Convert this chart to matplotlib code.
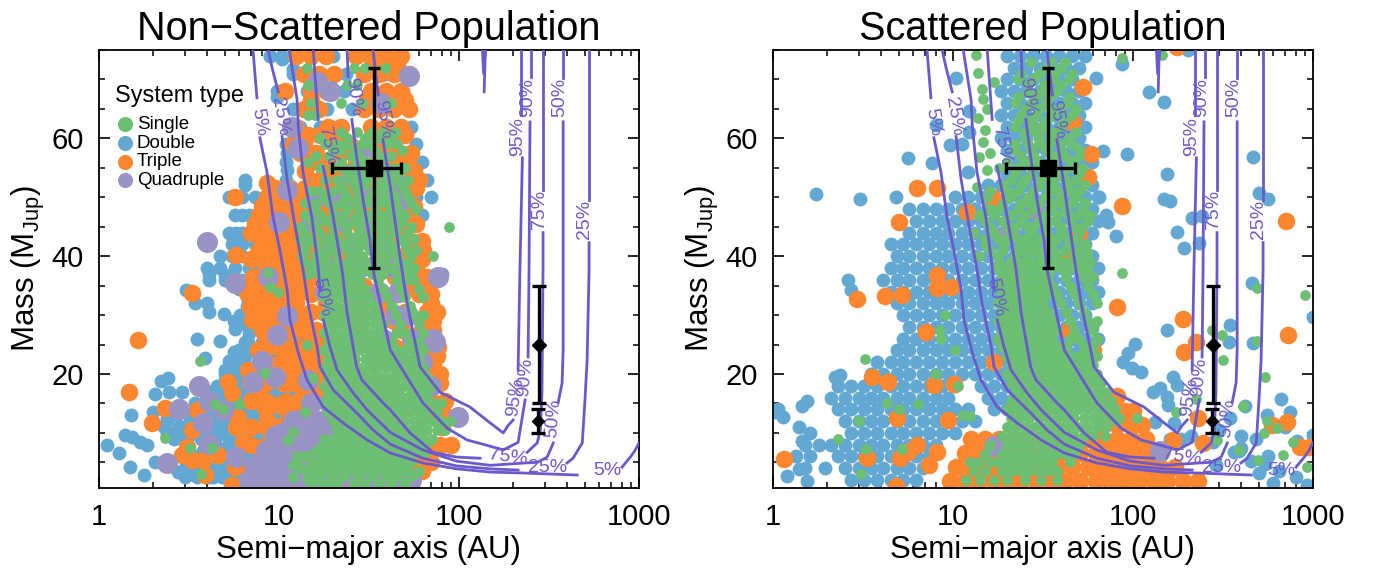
import matplotlib
matplotlib.use("Agg")
import matplotlib.pyplot as plt

plt.rcParams['font.family'] = ['Liberation Sans', 'DejaVu Sans']
plt.rcParams['mathtext.fontset'] = 'custom'
plt.rcParams['mathtext.rm'] = 'Liberation Sans'

GREEN = '#6cbf73'
BLUE = '#62a8d3'
ORANGE = '#fd8630'
PURPLE = '#9a94c4'
LINE = '#6a5acd'

# rows are (mass, [semi-major axes]), points are (semi-major axis, mass)
left_double_rows = [
    (74, [8.9, 10.4, 12, 20, 28, 36]), (71, [12, 13.5, 23.6, 38.8]), (68, [9.8, 14.3, 20, 23, 49]),
    (65, [12, 16, 18.4, 25.6, 52]), (62, [13, 17, 20, 54]), (59, [11, 13, 21.7, 25.6, 58]),
    (56, [11, 14.3, 18, 62]), (53, [6.5, 11, 15.6, 20, 60, 66]), (50, [5.3, 6.2, 7.4, 8.7, 18.4, 58, 70]),
    (47, [5.7, 6.2, 6.8, 8, 9.4, 11, 62]), (44, [5.3, 5.8, 6.2, 6.9, 8, 9.4, 11.2, 13, 50]),
    (42, [5.5, 6.2, 7.4, 8.7]), (40, [4.7, 5.5, 6.2, 7.4, 8.7, 10.3]), (38, [4, 4.7, 5.7, 6.8, 8, 9.4, 11.2]),
    (36, [4.1, 5, 6.2, 7.4, 8.7, 10.3, 69]), (33, [6.6, 7.7, 9, 10.5]), (30, [6.1, 7, 8, 9.4]),
    (27, [6.8, 8, 9.4, 11, 13]), (24, [6, 7, 8.2, 9.6, 11.5]), (22, [5.5, 6.4, 7.6, 9, 10.5, 13]),
    (20, [5, 5.8, 6.8, 8, 9.4, 11.2, 13]), (18, [4.5, 5.5, 6.5, 7.7, 9, 11, 13]),
    (16, [4.6, 5.3, 6.2, 7.4, 8.7, 10.3, 12]), (14, [3.6, 4.3, 5.1, 6, 7, 8.7, 10.3, 12]),
    (12, [2.4, 3.2, 3.8, 4.5, 5.3, 6.2, 7.4, 8.7, 10.3]), (10, [2.6, 3, 3.5, 4.1, 4.9, 5.7, 6.8, 8]),
    (8, [4.4, 5.3, 6.2, 7.4]), (6, [3.5, 4.2, 4.9, 5.7, 6.8]), (4, [3, 3.6, 4.1, 4.9, 5.7]),
    (2.5, [3, 3.5, 4.1, 4.8, 5.6]),
    (34.5, [6, 7.2, 8.4, 10]), (31.5, [6.6, 7.6, 9, 10.6]), (28.5, [6.5, 7.5, 9, 10.5, 12.5]),
    (25.5, [6.7, 8, 9.5, 11, 13]), (23, [5.6, 6.5, 7.7, 9, 10.5, 12.5, 14]), (21, [5.2, 6, 7, 8.2, 9.6, 11.2, 13]),
    (19, [5, 6, 7, 8.4, 10, 12, 14]), (17, [4.2, 5, 5.8, 7, 8.2, 9.6, 11.5]),
    (15, [3.4, 4, 4.8, 5.6, 6.6, 8, 9.5, 11.5]), (13, [2.7, 3.2, 3.8, 4.6, 5.5, 6.5, 8, 9.5]),
    (11, [2.3, 2.8, 3.3, 4, 4.7, 5.5, 6.5, 8, 10]), (9, [2.6, 3.1, 3.7, 4.4, 5.3, 6.3, 7.5]),
    (7, [3.8, 4.5, 5.3, 6.2, 7.2, 8.6]), (5, [3.6, 4.2, 5, 6, 7.2]), (3, [3.2, 3.8, 4.5, 5.4, 6.5]),
]
left_double_points = [
    (1.11, 7.9), (1.29, 6.6), (1.49, 4.2), (1.78, 2.8), (1.39, 9.6), (1.52, 9.3), (1.69, 8.4), (1.85, 7.9),
    (1.51, 13), (2, 13.5), (2.05, 16.6), (2.2, 18.8), (2.42, 19.3), (2.45, 17), (2.9, 17), (2.05, 5),
    (2.4, 9.6), (2.38, 12.5), (2.9, 11), (2.75, 3.3), (3.5, 26), (4.7, 25.6), (3.9, 22.7), (3.05, 34.3),
    (3.4, 32), (4, 32), (4.1, 30.5), (4.95, 30.2), (5.6, 29), (5.7, 27.6), (6.5, 25.4), (5.6, 23.7),
    (5.3, 22.2), (5, 20.7), (4.5, 17.6), (4.1, 37), (5, 36.8), (4.9, 11.3), (5.2, 7.9), (4.3, 2.5), (3.5, 3.2),
    (6.5, 52), (11.1, 54.7), (11.1, 57.5), (9.8, 67), (8.9, 73.9), (10.4, 73.4), (12, 71.7), (80, 37), (84, 13),
]

left_triple_rows = [
    (74, [12.4, 15, 18.2, 26.8, 32.4, 39.3, 47.6]), (71, [13.7, 16.6, 20.1, 29.5, 35.8, 43.3, 52.5]),
    (68, [10.8, 15, 18.2, 32.4, 39.3, 47.6]), (65, [13.7, 16.6, 29.5, 35.8, 43.3, 52.5]),
    (62, [12.4, 18.7, 22.1, 32.4, 39.3, 47.6]), (59, [12, 13.7, 20.1, 24.4, 35.8, 43.3]),
    (56, [15, 18.2, 26.8, 39.3, 47.6, 52]), (53, [16.6, 20.1, 24.4, 29.5, 35.8, 43.3, 52.5, 60]),
    (50, [8.6, 10.3, 12.4, 15, 18.2, 22.1, 26.8, 32.4, 39.3, 47.6]),
    (47, [7.7, 9.4, 11.3, 13.7, 16.6, 20.1, 24.4, 29.5, 35.8, 43.3, 52.5]),
    (44, [7, 8.5, 10.3, 12.4, 15, 18.2, 22.1, 32.4, 47.6]),
    (41, [7.7, 9.4, 11.3, 13.7, 16.6, 24.4, 35.8, 52.5, 63]),
    (38, [8.5, 10.3, 12.4, 15, 22.1, 32.4, 39.3, 47.6, 57.7]),
    (35, [6.4, 7.7, 9.4, 11.3, 13.7, 20.1, 29.5, 52.5, 63.6]),
    (32, [8.5, 10.3, 12.4, 18.2, 26.8, 39.3, 69.9]), (29, [8.3, 9.4, 11.3, 13.7, 20, 43.3, 63.6, 72]),
    (26, [8.5, 10.3, 15, 18.2, 32.4, 57.7, 69]), (23, [11.3, 14, 16.6, 24, 40, 75]),
    (20, [12.4, 15, 18.2, 28, 52, 78]), (17, [13.7, 16.6, 26, 44, 64]),
    (13, [14, 20, 30, 46, 70, 84]), (5, [40, 62, 70]), (2, [8, 10, 12, 16, 24, 36, 48]),
    (72.5, [33, 40, 45]), (66.5, [15, 31, 37, 45, 50]), (60.5, [14.5, 17, 21, 34, 41, 46, 50]),
    (57.5, [13, 16, 22, 28, 32, 38, 46, 54]), (54.5, [14, 18, 23, 30, 36, 42, 50, 56]),
    (51.5, [9.5, 11.5, 14, 17, 20, 24, 29, 35, 42, 50, 58]), (48.5, [8, 9.5, 11, 13, 15.5, 18.5, 22, 27, 33, 40, 48, 56]),
    (45.5, [7.4, 9, 11, 13, 16, 19, 23, 28, 34, 41, 50, 58]), (42.5, [8, 9.5, 11.5, 14, 17, 20, 26, 30, 42, 54, 62]),
    (39.5, [7, 8.5, 10, 12, 14.5, 18, 22, 28, 36, 44, 54, 62]), (36.5, [7.2, 9, 11, 13, 16, 19, 26, 44, 58, 66]),
    (33.5, [7.3, 8.8, 10.5, 12.5, 15, 18, 24, 46, 60, 70]), (30.5, [7.5, 9, 10.5, 12.5, 15, 17.5, 36, 50, 66, 75]),
    (27.5, [8, 9.5, 11.5, 13.5, 16, 28, 48, 62, 72]), (24.5, [8.8, 10.5, 12.5, 15, 17.5, 22, 44, 66, 76]),
    (21.5, [9, 11, 13.5, 16, 19, 34, 60, 72]), (18.5, [8.5, 11.5, 14.5, 17, 24, 40, 56, 78]),
    (15.5, [7, 8.5, 11, 13, 15, 18, 30, 50, 70, 84]), (11, [7, 8.5, 10, 12, 16, 26, 40, 60, 80]),
    (8, [7, 8.5, 11, 14, 18, 30, 50, 72, 90]), (3.5, [7, 9, 11, 14, 18, 24, 32, 44, 56, 62]),
]
left_triple_points = [
    (5.7, 50), (8.6, 52.5), (7.5, 45.8), (5.8, 40.2), (8.6, 42.8), (8, 41), (3.3, 33.8), (1.65, 25.8),
    (1.47, 17), (1.97, 11.7), (2.33, 14.2), (3.3, 10.5), (3.5, 13.9), (3.1, 7.6), (2.9, 6.2), (3.3, 5.4),
    (3.8, 5.4), (4.6, 6.2), (3.9, 2.8), (5.2, 18.6), (5.5, 16.8), (6.9, 18.6), (7.5, 17), (6.7, 20.7),
    (6.9, 31.4), (7.1, 29.2), (6.6, 33.8), (7.6, 24), (10.5, 22.7), (10.5, 18.5), (5.9, 12.7), (5.8, 11),
    (8.4, 14.2), (9.9, 14.7), (11.2, 13.5), (8.6, 12.2), (11.1, 11.8), (6.3, 8.4), (5.7, 4.2), (5.5, 1.1),
    (8.1, 5.9), (9.9, 29.2), (13.5, 17.3), (14.3, 22.9), (12.6, 2.5), (53, 3.7), (78, 7.9), (10, 9), (12, 8),
]

left_quad_rows = [
    (2, [6.8, 8.5, 10.7, 13.5, 17, 21.4, 27, 34, 43, 54]), (4.5, [7.5, 9.5, 12, 15, 19, 24, 30, 38, 48]),
    (7, [8.5, 10.7, 13.5, 17, 21.4, 27, 34, 43]), (9.5, [9.5, 12, 15, 19, 24, 30, 38, 48]),
    (12, [12, 13.5, 17, 21.4, 27, 34, 43]), (15, [15, 19, 24, 30, 38, 48, 60]), (18, [20, 30, 40, 60, 70]),
    (22, [24, 34, 48, 62]), (26, [23, 30, 38, 55, 72]), (30, [21, 28, 44, 52]), (34, [18, 24, 36, 46]),
    (38, [19, 28, 34, 44]), (42, [20, 26, 38]), (46, [15, 22, 30, 42]), (50, [16, 22, 33, 45]), (54, [25, 40]),
]
left_quad_points = [
    (5.7, 35.5), (3.6, 18), (2.8, 14), (2.4, 4.9), (4.1, 8.1), (3.8, 11.7), (4.1, 15.4), (4.9, 13.9),
    (5.8, 5.9), (7.4, 4.2), (7.2, 18.6), (8, 22.2), (9.5, 19.5), (11.1, 29.9), (9.8, 26.6), (8.7, 36.5),
    (14.5, 19), (8.6, 7.1), (10.4, 10), (12.8, 12.2), (10.5, 3.2), (6.9, 1.7), (8.9, 2), (76, 36.5),
    (73.6, 25.4), (99, 12.7), (53, 70.6), (45, 48.4), (45, 52.4), (4, 42.4), (11.8, 62), (12.8, 58.4),
    (11.1, 51.3), (16.3, 69.6), (19.2, 68), (31, 58.4), (37, 66), (10, 45.8),
]

left_single_rows = [
    (72, [14.3, 26, 30, 39]), (69, [14.5, 24, 27]), (66, [15, 22, 29, 42]), (64, [14.5, 15.8]),
    (61, [22, 27, 33, 38, 44]), (59, [18, 21, 24, 29, 32, 40, 45]), (57, [16, 19, 25, 28, 36, 42]),
    (55, [17, 20, 23, 26, 30, 35, 44, 50]), (53, [18, 21, 25, 29, 31, 38, 43, 52]),
    (51, [15, 17, 20, 23, 27, 34, 37, 42, 50]), (49, [14, 16, 19, 22, 26, 30, 36, 40, 44, 54]),
    (47, [14, 17, 20, 23, 27, 31, 33, 38, 44, 50]), (45, [13, 16, 20, 24, 28, 34, 38, 42, 46, 54]),
    (43, [13, 15, 18, 21, 25, 29, 34, 40, 48, 56]), (41, [14, 17, 20, 24, 27, 32, 38, 44, 52, 58]),
    (39, [14, 16, 18, 21, 24, 28, 32, 38, 46, 52]), (37, [14.5, 16.5, 19, 22, 25, 28, 33, 38, 46, 54]),
    (60, [17, 24, 30, 36, 42]), (58, [20, 22, 26, 34, 48]), (56, [14.5, 22, 27, 31, 38]),
    (54, [24, 28, 33, 40, 46]), (52, [22, 26, 30, 36, 40, 48]), (50, [18, 24, 28, 32, 38, 44, 52]),
    (48, [15.8, 20, 24, 28, 34, 42, 46, 58]), (46, [15, 18, 22, 26, 30, 36, 40, 48]),
    (44, [14, 17, 20, 24, 28, 32, 38, 44, 52]), (42, [14, 16, 19, 23, 27, 30, 36, 42, 50]),
    (40, [13.5, 15.8, 18, 21, 25, 29, 34, 40, 46, 54]), (38, [15, 17, 20, 23, 26, 30, 35, 42, 50, 56]),
    (36, [17.8, 20, 22.4, 25.1, 28.2, 35.5, 44.7, 50.1, 56.2]), (34.5, [18.8, 21.1, 23.7, 26.6, 29.9, 37.6, 47.3, 59.6]),
    (33, [17.8, 20, 22.4, 25.1, 28.2, 31.6, 39.8, 50.1, 63.1]), (31.5, [18.8, 21.1, 23.7, 26.6, 29.9, 33.5, 42.2, 53.1]),
    (30, [17.8, 20, 22.4, 25.1, 28.2, 31.6, 35.5, 44.7, 56.2, 63]),
    (28.5, [18.8, 21.1, 23.7, 26.6, 29.9, 33.5, 37.6, 47.3, 59.6]),
    (27, [17.8, 20, 22.4, 25.1, 28.2, 31.6, 35.5, 44.7, 50.1, 63.1]),
    (25.5, [18.8, 21.1, 23.7, 26.6, 29.9, 33.5, 37.6, 42.2, 53.1, 59.6]),
    (24, [17.8, 20, 22.4, 25.1, 28.2, 31.6, 35.5, 39.8, 44.7, 50.1, 56.2, 63.1]),
    (22.5, [18.8, 21.1, 23.7, 26.6, 29.9, 33.5, 37.6, 42.2, 47.3, 53.1, 59.6]),
    (21, [17.8, 20, 22.4, 25.1, 28.2, 31.6, 35.5, 39.8, 44.7, 50.1, 56.2, 63.1]),
    (19.5, [18.8, 21.1, 23.7, 26.6, 29.9, 33.5, 37.6, 42.2, 47.3, 53.1, 59.6, 66.8]),
    (18, [17.8, 20, 22.4, 25.1, 28.2, 31.6, 35.5, 39.8, 44.7, 50.1, 56.2, 63.1, 70.8]),
    (16.5, [18.8, 21.1, 23.7, 26.6, 29.9, 33.5, 37.6, 42.2, 47.3, 53.1, 59.6, 66.8]),
    (15, [17.8, 20, 22.4, 25.1, 28.2, 31.6, 35.5, 39.8, 44.7, 50.1, 56.2, 63.1, 70.8, 79.4]),
    (13.5, [18.8, 21.1, 23.7, 26.6, 29.9, 33.5, 37.6, 42.2, 47.3, 53.1, 59.6, 66.8, 75]),
    (12, [20, 22.4, 25.1, 28.2, 31.6, 35.5, 39.8, 44.7, 50.1, 56.2, 63.1, 70.8, 79.4, 89.1]),
    (10.5, [21.1, 23.7, 26.6, 29.9, 33.5, 37.6, 42.2, 47.3, 53.1, 59.6, 66.8, 75, 84.1]),
    (9, [17.8, 20, 22.4, 25.1, 28.2, 31.6, 35.5, 39.8, 44.7, 50.1, 56.2, 63.1, 70.8]),
    (8.25, [18, 20.5, 23, 26, 30, 34, 38, 42, 48, 54, 60, 66]),
    (7.5, [16.8, 18.8, 21.1, 23.7, 26.6, 29.9, 33.5, 37.6, 42.2, 47.3, 53.1, 59.6]),
    (6.75, [15.8, 17.5, 19.5, 22, 24.5, 27, 30.5, 35, 38, 42, 47, 52, 58, 65]),
    (6, [12.6, 14.1, 17.8, 20, 22.4, 25.1, 28.2, 31.6, 35.5, 39.8, 44.7, 50.1]),
    (5.25, [16, 18, 21, 24, 27, 30, 34, 38, 43, 48, 55]),
    (4.5, [11.9, 15, 18.8, 23.7, 29.9, 37.6, 47.3]), (4, [13, 17, 20, 22.5, 26, 31, 35, 40, 45, 52]),
    (3.5, [14.5, 16, 18.5, 20, 23, 26, 29, 33, 38, 44, 50, 60]), (2.7, [16.5, 20, 23, 28, 33, 40, 46, 55]),
    (1.5, [15, 18, 21, 26, 30, 36, 42, 50]),
]
left_single_points = [
    (3.65, 22.2), (8.4, 20.2), (4.4, 14.9), (4.9, 14), (6, 14.9), (2.33, 9.1), (3.2, 7.4), (4.25, 7.4),
    (3.7, 3), (8.9, 34.8), (9.9, 33.9), (8.7, 37.2), (14.3, 24.9), (15.5, 19.3), (14, 13.5), (12, 10.1),
    (11.2, 8.8), (12.6, 4.9), (12, 2.5), (14.3, 2.3), (16.2, 2), (18.5, 1.5), (88, 45), (72, 40),
]

right_double_rows = [
    (74, [20, 23.6, 27.8, 32.9, 38.8, 45.9, 54]), (72, [21.7, 25.6, 30.3, 35.8, 42.3, 49.9]),
    (70, [20, 23.6, 27.8, 32.9, 38.8, 45.9]), (68, [18.4, 21.7, 25.6, 30.3, 35.8, 42.3, 49.9]),
    (66, [20, 23.6, 27.8, 32.9, 38.8, 45.9, 54]), (64, [18.4, 21.7, 25.6, 30.3, 35.8, 42.3, 49.9]),
    (62, [20, 23.6, 27.8, 32.9, 38.8, 45.9, 54]), (60, [18.4, 21.7, 25.6, 30.3, 35.8, 42.3, 49.9]),
    (58, [20, 23.6, 27.8, 32.9, 38.8, 45.9, 54]), (56, [21.7, 25.6, 30.3, 35.8, 42.3, 49.9, 59]),
    (54, [20, 23.6, 27.8, 32.9, 38.8, 45.9, 54]), (52, [15.6, 18.4, 21.7, 25.6, 30.3, 35.8, 42.3, 49.9, 59]),
    (50, [10.3, 12.1, 14.3, 16.9, 20, 23.6, 27.8, 32.9, 38.8, 45.9, 54.2, 64]),
    (48, [5.7, 6.8, 8, 9.4, 11.2, 13.2, 15.6, 18.4, 21.7, 25.6, 30.3, 35.8, 42.3, 49.9, 59]),
    (46, [6.2, 7.4, 8.7, 10.3, 12.1, 14.3, 16.9, 20, 23.6, 27.8, 32.9, 38.8, 45.9, 54.2, 64]),
    (44, [5.7, 6.8, 8, 9.4, 11.2, 13.2, 15.6, 18.4, 21.7, 25.6, 30.3, 35.8, 42.3, 49.9, 59]),
    (42, [4.5, 5.3, 6.2, 7.4, 8.7, 10.3, 12.1, 14.3, 16.9, 20, 23.6, 27.8, 32.9, 38.8, 45.9, 54.2]),
    (40, [4.9, 5.7, 6.8, 8, 9.4, 11.2, 13.2, 15.6, 18.4, 21.7, 25.6, 30.3, 35.8, 42.3, 49.9, 59]),
    (38, [4.5, 5.3, 6.2, 7.4, 8.7, 10.3, 12.1, 14.3, 16.9, 20, 23.6, 27.8, 32.9, 38.8, 45.9, 54.2, 64]),
    (36, [4.1, 4.9, 5.7, 6.8, 8, 9.4, 11.2, 13.2, 15.6, 18.4, 21.7, 25.6, 30.3, 35.8, 42.3, 49.9, 59]),
    (34, [4.5, 5.3, 6.2, 7.4, 8.7, 10.3, 12.1, 14.3, 16.9, 20, 23.6, 27.8, 32.9, 38.8, 45.9, 54.2, 64]),
    (32, [4.9, 5.7, 6.8, 8, 9.4, 11.2, 13.2, 15.6, 18.4, 21.7, 25.6, 30.3, 35.8, 42.3, 49.9, 59]),
    (30, [5.3, 6.2, 7.4, 8.7, 10.3, 12.1, 14.3, 16.9, 20, 23.6, 27.8, 32.9, 38.8, 45.9, 54.2]),
    (28, [5.7, 6.8, 8, 9.4, 11.2, 13.2, 15.6, 18.4, 21.7, 25.6, 30.3, 35.8, 42.3, 49.9, 59]),
    (26, [5.3, 6.2, 7.4, 8.7, 10.3, 12.1, 14.3, 16.9, 20, 23.6, 27.8, 32.9, 38.8, 45.9, 54.2, 64]),
    (24, [4.9, 5.7, 6.8, 8, 9.4, 11.2, 13.2, 15.6, 18.4, 21.7, 25.6, 30.3, 35.8, 42.3, 49.9, 59]),
    (22, [3.8, 4.5, 5.3, 6.2, 7.4, 8.7, 10.3, 12.1, 14.3, 16.9, 20, 23.6, 27.8, 32.9, 38.8, 45.9, 54.2]),
    (20, [3.5, 4.1, 4.9, 5.7, 6.8, 8, 9.4, 11.2, 13.2, 15.6, 18.4, 21.7, 25.6, 30.3, 35.8, 42.3, 49.9, 59]),
    (18, [2.3, 2.7, 3.2, 3.8, 4.5, 5.3, 6.2, 7.4, 8.7, 10.3, 14.3, 16.9, 20, 23.6, 27.8, 32.9, 38.8, 45.9, 54.2]),
    (16, [2.1, 2.5, 3, 3.5, 4.1, 4.9, 5.7, 6.8, 8, 9.4, 15.6, 18.4, 21.7, 25.6, 30.3, 35.8, 42.3, 49.9, 59]),
    (14, [2.3, 2.7, 3.2, 3.8, 4.5, 5.3, 6.2, 7.4, 8.7, 10.3, 12.1, 16.9, 20, 23.6, 27.8, 32.9, 38.8, 45.9]),
    (12, [2.5, 3, 3.5, 4.1, 4.9, 5.7, 6.8, 8, 9.4, 11.2, 13.2]),
    (10, [1.6, 2.7, 3.2, 3.8, 4.5, 5.3, 6.2, 7.4, 8.7, 10.3]),
    (8, [1.5, 1.8, 2.1, 2.5, 3, 3.5, 4.1, 4.9, 5.7, 6.8, 8]),
    (6, [1.6, 2.3, 2.7, 3.2, 3.8, 4.5, 5.3, 6.2, 7.4]), (4, [1.5, 1.95, 2.5, 3, 3.5, 4.1, 4.9, 5.7, 6.8]),
    (2, [2.7, 3.2, 3.8, 4.5, 5.3, 6.2]),
]
right_double_points = [
    (1.73, 50.6), (3.04, 49.7), (5.6, 56.7), (7.6, 55.9), (10.4, 70.3), (9.6, 58.9), (11.2, 59), (12.3, 61),
    (12.3, 64.7), (8, 62.3), (12.1, 54.3), (4.8, 50), (2.6, 36), (2.7, 34.3), (2.2, 19.5), (2.35, 19.8),
    (1.06, 14), (1.03, 13.6), (1.14, 12.7), (1.45, 14.5), (1.55, 15.5), (1.39, 11), (1.45, 8.7), (1.35, 6.1),
    (1.4, 3.8), (1.2, 2.7), (1.55, 1.9), (62, 70.3), (87, 72.7), (123, 67.9), (149, 66.2), (68, 57.9), (93, 57.4),
    (155, 54), (464, 56.9), (501, 50.8), (563, 49.7), (65, 50), (149, 49.7), (161, 49.4), (213, 46.5), (241, 46.8),
    (71, 47), (73, 45.8), (80, 43.4), (175, 44.1), (192, 41.4), (233, 42.3), (202, 75), (458, 35.5), (155, 27.5),
    (345, 28.3), (340, 25.4), (464, 25.3), (103, 25.1), (94, 23.6), (88, 22), (99, 21), (111, 20.3), (167, 19.5),
    (175, 18.1), (141, 17.6), (129, 16.9), (155, 16.1), (157, 14.7), (133, 11.8), (170, 11.7), (667, 15.8),
    (556, 13), (745, 13.5), (1000, 29.7), (1000, 9.6), (600, 1.5), (420, 14.6), (185, 9), (210, 9.5), (300, 10.5),
    (345, 12.5), (400, 9.5), (390, 7), (480, 9), (560, 6), (650, 3.5), (800, 2.5), (930, 1.2), (1000, 1), (815, 8.7),
    (365, 6.8), (400, 7.5), (500, 3.2), (280, 8.5), (160, 9), (290, 4.6), (540, 4.7), (450, 5.3), (700, 11),
    (66, 9), (75, 1.5),
]
right_triple_rows = [
    (1.8, [9.6, 11.7, 14, 17, 20, 24, 29, 35, 42, 51, 62, 75, 90, 108, 130, 155, 190, 230]),
    (4.2, [10.4, 12.6, 15, 18, 22, 26, 32, 38, 46, 56, 68, 82, 98, 118, 142, 172]),
    (6.6, [11.7, 14, 17, 20, 24, 29, 35, 42, 51, 62, 75, 90, 108, 130]),
    (9, [12.6, 15, 18, 22, 26, 32, 38, 46, 56, 68, 82, 98, 118]),
    (11.4, [68, 82, 98, 112]), (13.8, [72, 90, 100]), (16.2, [72, 82]),
]
right_triple_points = [
    (6.3, 51.6), (8.1, 51.6), (5, 45.8), (16.6, 49.9), (12, 47.5), (2.93, 32.7), (4.2, 33.3), (5.2, 33.4),
    (3.55, 19.5), (4.35, 18.6), (7.8, 18.1), (10.1, 18.3), (7.1, 27.1), (4.9, 12.5), (9.4, 12.2), (3.33, 5.7),
    (5.1, 5.7), (1.15, 5.6), (4.8, 1), (8.2, 34.6), (9.8, 34.8), (8.2, 36.8), (6.3, 7.9), (5.6, 6.7), (8.2, 6.7),
    (7.4, 4.5), (81.5, 31.4), (189, 29.3), (224, 25.4), (192, 23.7), (723, 26.6), (715, 11.9), (594, 11.3),
    (230, 12.5), (245, 8.3), (845, 7.6), (960, 7.6), (167, 8.8), (52.9, 68.8), (46.4, 62.7), (58.6, 57.4),
    (56, 53.5), (87, 48.5), (50, 44), (708, 46), (43, 39.9), (175, 75.5), (17, 22), (60, 24), (44, 27.5),
]
right_quad_points = [(29.3, 47.9), (20.5, 44.1), (16.9, 7.8), (141, 7)]
right_single_rows = [
    (73, [27, 35, 42]), (71, [24, 30, 37, 46]), (69, [26, 32, 40]), (67, [23, 29, 34, 44]), (65, [25, 30, 35, 40, 48]),
    (63, [23, 27, 33, 42]), (61, [25, 29, 34, 38, 48]), (59, [22, 26, 30, 34, 40, 46]), (57, [24, 28, 36, 42, 50]),
    (55, [18, 23, 28, 34, 38, 44, 52]), (53, [21, 25, 31, 36, 42, 48]), (51, [16, 20, 23, 28, 34, 38, 44, 50]),
    (49, [19, 24, 27, 30, 36, 40, 46, 54]), (47, [14, 17, 21, 25, 32, 38, 44, 50, 58]),
    (45, [16, 20, 22, 26, 28, 33, 40, 47, 52]), (43, [15, 18, 20, 23, 25, 30, 36, 38, 44, 48]),
    (41, [16, 19, 23, 25, 29, 33, 36, 42, 50, 55]), (39, [18, 21, 24, 27, 30, 34, 38, 42, 46, 52, 58]),
    (72, [33, 40]), (70, [23, 28, 36, 44]), (68, [26, 31, 38]), (66, [22, 27, 33, 43]), (64, [24, 29, 36, 46]),
    (62, [22, 27, 31, 40]), (60, [25, 30, 36, 44]), (58, [22, 27, 33, 40, 50]), (56, [20, 25, 30, 36, 46]),
    (54, [22, 27, 33, 40, 50]), (52, [19, 24, 30, 36, 44, 54]), (50, [21, 26, 33, 40, 48]),
    (48, [16, 18, 23, 28, 35, 42, 52]), (46, [15, 19, 24, 30, 37, 45, 56]), (44, [13, 17, 21, 27, 33, 40, 50]),
    (42, [15, 19, 24, 28, 35, 44, 54]), (40, [14, 17.8, 22, 26, 31, 38, 47, 56]),
    (38, [17.6, 20, 22.4, 25.1, 28.2, 31.6, 35.5, 39.8, 44.7, 50.1, 56.2]),
    (36.5, [18.8, 21.1, 23.7, 26.6, 29.9, 33.5, 42.2, 53.1, 59.6]),
    (35, [17.8, 20, 22.4, 25.1, 28.2, 31.6, 35.5, 44.7, 56.2]),
    (33.5, [18.8, 21.1, 23.7, 26.6, 29.9, 33.5, 37.6, 47.3, 59.6]),
    (32, [17.8, 20, 22.4, 25.1, 28.2, 31.6, 39.8, 50.1, 63.1]),
    (30.5, [18.8, 21.1, 23.7, 26.6, 29.9, 33.5, 42.2, 53.1]),
    (29, [17.8, 20, 22.4, 25.1, 28.2, 31.6, 35.5, 44.7, 56.2, 63]),
    (27.5, [18.8, 21.1, 23.7, 26.6, 29.9, 33.5, 37.6, 47.3, 59.6]),
    (26, [17.8, 20, 22.4, 25.1, 28.2, 31.6, 35.5, 44.7, 50.1, 63.1]),
    (24.5, [18.8, 21.1, 23.7, 26.6, 29.9, 33.5, 37.6, 42.2, 53.1, 59.6]),
    (23, [20, 22.4, 25.1, 28.2, 31.6, 35.5, 39.8, 44.7, 50.1, 56.2, 63.1]),
    (21.5, [21.1, 23.7, 26.6, 29.9, 33.5, 37.6, 42.2, 47.3, 53.1, 59.6]),
    (20, [20, 22.4, 25.1, 28.2, 31.6, 35.5, 39.8, 44.7, 50.1, 56.2, 63.1]),
    (18.5, [21.1, 23.7, 26.6, 29.9, 33.5, 37.6, 42.2, 47.3, 53.1, 59.6, 66.8]),
    (17, [22.4, 25.1, 28.2, 31.6, 35.5, 39.8, 44.7, 50.1, 56.2, 63.1, 70.8]),
    (15.5, [21.1, 23.7, 26.6, 29.9, 33.5, 37.6, 42.2, 47.3, 53.1, 59.6, 66.8, 75]),
    (14, [20, 22.4, 25.1, 28.2, 31.6, 35.5, 39.8, 44.7, 50.1, 56.2, 63.1, 70.8, 79.4]),
    (12.5, [21.1, 23.7, 26.6, 29.9, 33.5, 37.6, 42.2, 47.3, 53.1, 59.6, 66.8, 75, 84.1]),
    (11, [20, 22.4, 25.1, 28.2, 31.6, 35.5, 39.8, 44.7, 50.1, 56.2, 63.1, 70.8]),
    (9.5, [18.8, 21.1, 23.7, 26.6, 29.9, 33.5, 37.6, 42.2, 47.3, 53.1, 59.6]),
    (8, [16, 20, 22.4, 25.1, 28.2, 31.6, 35.5, 39.8, 44.7, 50.1]),
    (6.5, [15, 18.8, 21.1, 23.7, 26.6, 29.9, 33.5, 37.6, 42.2, 47.3]),
    (5, [12.5, 14, 16, 17.8, 20, 22.4, 25.1, 28.2, 31.6, 35.5, 44.7]),
    (3.5, [13, 15, 18.8, 21.1, 23.7, 26.6, 29.9, 33.5, 37.6]),
    (2, [11.8, 14.1, 17, 20, 25, 31, 38]),
]
right_single_points = [
    (13.4, 74.2), (13.8, 71.1), (14.5, 68.3), (17, 69.6), (14.7, 66.6), (13.8, 63.5), (15.5, 64.9), (15, 61.5),
    (14.7, 59.3), (16, 57.5), (14, 56.9), (15.5, 54.7), (13.6, 51.8), (15.5, 50), (87, 73.7), (145, 74.2), (87, 37.2),
    (490, 34.6), (900, 33.4), (273, 27.5), (312, 26.6), (490, 25.6), (316, 22.4), (541, 19.5), (224, 15.8), (408, 14.6),
    (173, 13.5), (105, 12.5), (556, 12), (630, 10.8), (533, 10), (770, 8.4), (495, 5.4), (680, 6.2), (930, 4.2),
    (390, 7.1), (294, 8.8), (3.25, 22.5), (4.3, 15), (5, 14), (6.4, 14.9), (3, 12), (2.3, 9), (3.3, 7.3), (5.2, 7.2),
    (3.1, 3), (8, 20), (10.3, 24), (9, 30), (8.5, 27.4), (8.6, 26), (10.6, 18), (11.3, 13), (12.5, 12.8),
    (70, 9.5), (80, 12),
]

# contour segments are shared by both panels
contour_5 = [
    [(7.17, 75), (7.36, 70.8), (7.54, 66.9)],
    [(7.83, 60.1), (8.58, 54.2), (9.26, 46.7), (10.1, 41.1), (11.1, 34.3), (11.5, 29.2), (12.8, 23.6), (14.3, 19),
     (17.6, 14.4), (22.7, 11.7), (30.9, 8.8), (41.5, 6.6), (63, 4.9), (97, 3.9), (149, 3.35), (227, 3.2), (454, 2.85)],
    [(805, 4.2), (895, 5.9), (950, 7), (1000, 8.3)],
]
contour_25 = [
    [(8.7, 75), (9.2, 71.7), (9.9, 67.9)],
    [(10.4, 60.3), (11.1, 53), (12.3, 45), (13.6, 37.7), (14.5, 32), (16.3, 24.6), (16.9, 21.2), (20, 17.3), (27, 13.4),
     (33.3, 10.5), (41.5, 8.1), (63, 5.7), (97, 4.4), (149, 3.9), (213, 3.7)],
    [(398, 4.9), (430, 5.7), (484, 8.3), (501, 15.6), (515, 22.4), (528, 37.7), (528, 42.3)],
    [(528, 49.6), (528, 75)],
]
contour_50 = [
    [(11.4, 75), (12.6, 66.6), (12.8, 62), (13.6, 54.2), (15.2, 46.7), (16.5, 38.2), (16.9, 34.3)],
    [(17.6, 29.2), (19.2, 24.6), (21, 20.7), (25.8, 16.8), (30.9, 13.9), (41.5, 10.1), (63, 7.1), (97, 5.2), (149, 4.5),
     (233, 4.9), (272, 5), (309, 5.9), (334, 8.3)],
    [(356, 15.2), (374, 18.5), (379, 24.1), (379, 37.7), (379, 62.8)],
    [(379, 70.3), (379, 75)],
]
contour_75 = [
    [(15.5, 75), (16.5, 63.2)],
    [(17.6, 55.2), (20, 46.7), (22.4, 37.7), (23.9, 30.4), (27, 21.2), (28.9, 19), (37.8, 15.1), (41.5, 13.9), (53.5, 10),
     (71.7, 6.7), (97, 5.9), (131, 5.7)],
    [(239, 6.7), (272, 8.3), (283, 10.5), (289, 16.8), (293, 37.7), (293, 44)],
    [(293, 51.3), (293, 75)],
]
contour_90 = [
    [(23.9, 75), (24.2, 70.5)],
    [(25.4, 63.2), (27, 56.9), (29.3, 49.6), (32, 42.8), (33.3, 37.7), (36.5, 32), (41.5, 24.1), (63, 15.1), (86, 10.8),
     (111, 8.8), (143, 7.9), (176, 7.1), (213, 8.4), (233, 15.6)],
    [(242, 22.9), (245, 37.7), (248, 62.8)],
    [(251, 70.5), (251, 75)],
]
contour_95 = [
    [(33.3, 75), (35.6, 67.4)],
    [(37.8, 59.8), (41.5, 51.8), (43, 48.4), (47, 39.9), (48.2, 37.7), (51.5, 32), (60.8, 21.2), (78.5, 16.9), (115, 14.4),
     (149, 11.7), (176, 10), (188, 11.3), (200, 12.2)],
    [(213, 20.7), (218, 37.7), (225, 56.7)],
    [(220, 64), (220, 75)],
]
contour_spike = [[(135, 75), (137, 71), (140, 75), (138, 67.9)]]
contour_segments = [contour_5, contour_25, contour_50, contour_75, contour_90, contour_95, contour_spike]

label_texts = ['5%', '25%', '75%', '90%', '95%', '50%', '95%', '90%', '50%', '75%', '25%', '95%', '90%', '50%',
               '75%', '25%', '5%']
label_a = [7.8, 10.1, 18.5, 25.8, 37.8, 17.3, 213, 242, 365, 281, 501, 206, 233, 334, 188, 309, 667]
label_m = [62.7, 63.7, 58.6, 67, 63.2, 33.1, 60.3, 67, 66.9, 47.9, 46.2, 16.1, 19.5, 12.5, 5.9, 4.2, 3.7]
label_rot = [-80, -80, -78, -82, -80, -78, 90, 90, 90, 90, 90, 82, 85, 85, -8, 0, 0]

square_a, square_m = 33.7, 55
square_a_err = [19.7, 47.6]
square_m_err = [38, 72]
diamond_a = [278, 275]
diamond_m = [25, 12]
diamond_low = [15, 10]
diamond_high = [35, 14]

legend_names = ['Single', 'Double', 'Triple', 'Quadruple']
legend_colors = [GREEN, BLUE, ORANGE, PURPLE]


def expand(rows, points):
    xs = [a for a, _ in points]
    ys = [m for _, m in points]
    for m, values in rows:
        xs += values
        ys += [m] * len(values)
    return xs, ys


def draw_panel(ax, title, double, triple, quad, single):
    # big points go under the small ones
    for (xs, ys), color, size in [(double, BLUE, 100), (triple, ORANGE, 160), (quad, PURPLE, 230), (single, GREEN, 60)]:
        ax.scatter(xs, ys, s=size, c=color, linewidths=0, zorder=2)

    for contour in contour_segments:
        for seg in contour:
            ax.plot([p[0] for p in seg], [p[1] for p in seg], color=LINE, lw=2, zorder=3)
    for text, a, m, rot in zip(label_texts, label_a, label_m, label_rot):
        ax.text(a, m, text, color=LINE, fontsize=14, rotation=rot, ha='center', va='center', zorder=4)

    ax.errorbar([square_a], [square_m], xerr=[[square_a - square_a_err[0]], [square_a_err[1] - square_a]],
                yerr=[[square_m - square_m_err[0]], [square_m_err[1] - square_m]], fmt='s', color='k', ms=12,
                elinewidth=2.4, capsize=4.5, capthick=2.4, zorder=5)
    for a, m, low, high in zip(diamond_a, diamond_m, diamond_low, diamond_high):
        ax.errorbar([a], [m], yerr=[[m - low], [high - m]], fmt='D', color='k', ms=7.5 if m > 20 else 6,
                    elinewidth=2.4, capsize=5, capthick=2.4, zorder=5)

    ax.set_xscale('log')
    ax.set_xlim(1, 1000)
    ax.set_ylim(0.65, 75)
    ax.set_yticks([20, 40, 60])
    ax.set_yticks([5, 10, 15, 25, 30, 35, 45, 50, 55, 65, 70, 75], minor=True)
    ax.set_xticks([1, 10, 100, 1000])
    ax.set_xticklabels(['1', '10', '100', '1000'])
    ax.tick_params(which='major', direction='in', length=8, width=1.2, top=True, right=True, labelsize=21, pad=11)
    ax.tick_params(which='minor', direction='in', length=4, width=1.1, top=True, right=True)
    for spine in ax.spines.values():
        spine.set_linewidth(1.3)
    ax.set_title(title, fontsize=28.5, pad=7)
    ax.set_xlabel('Semi\u2212major axis (AU)', fontsize=22.5, labelpad=3)
    ax.set_ylabel('Mass (M$_{\\mathrm{Jup}}$)', fontsize=22.5, labelpad=3)


fig = plt.figure(figsize=(13.74, 5.72), dpi=100)
ax_left = fig.add_axes([99 / 1374, 1 - 488 / 572, 540 / 1374, 438 / 572])
ax_right = fig.add_axes([773 / 1374, 1 - 488 / 572, 540 / 1374, 438 / 572])

draw_panel(ax_left, 'Non\u2212Scattered Population', expand(left_double_rows, left_double_points),
           expand(left_triple_rows, left_triple_points), expand(left_quad_rows, left_quad_points),
           expand(left_single_rows, left_single_points))
draw_panel(ax_right, 'Scattered Population', expand(right_double_rows, right_double_points),
           expand(right_triple_rows, right_triple_points), expand([], right_quad_points),
           expand(right_single_rows, right_single_points))

# hand-placed legend, in axes fractions
ax_left.text(0.03, 0.895, 'System type', transform=ax_left.transAxes, fontsize=16.8, va='center', zorder=6)
for i, (name, color) in enumerate(zip(legend_names, legend_colors)):
    y = 0.83 - i * 0.0425
    ax_left.scatter([0.048], [y], s=118, c=color, linewidths=0, transform=ax_left.transAxes, zorder=6)
    ax_left.text(0.07, y, name, transform=ax_left.transAxes, fontsize=13.5, va='center', zorder=6)

fig.savefig('out.png', dpi=100)
